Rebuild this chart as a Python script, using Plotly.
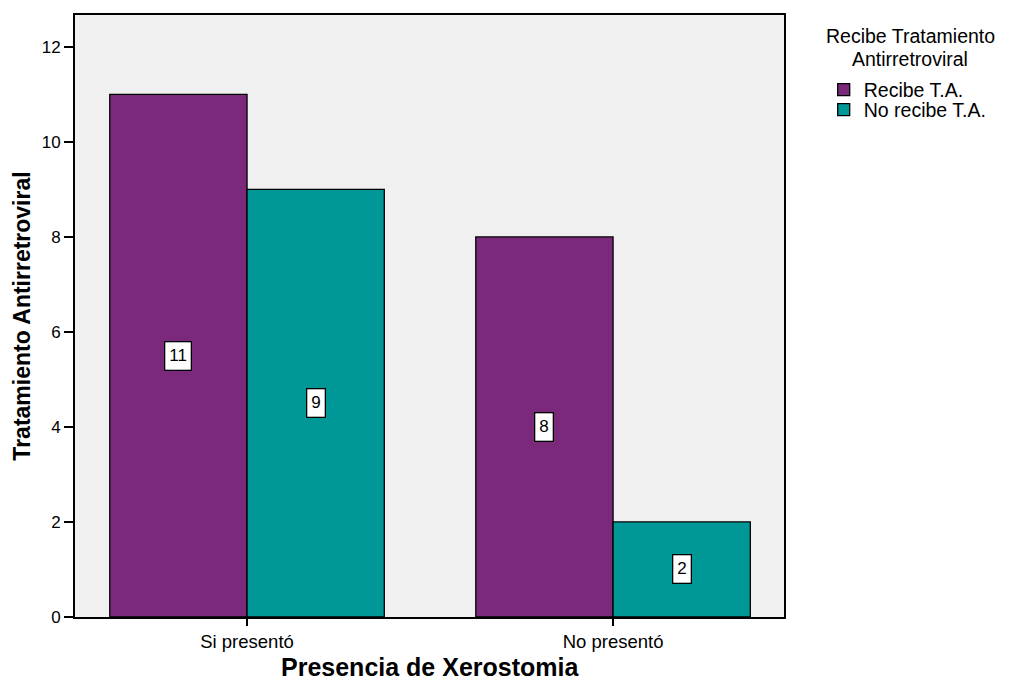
import plotly.graph_objects as go

categories = ["Si presentó", "No presentó"]
recibe = [11, 8]
no_recibe = [9, 2]
series_names = ["Recibe T.A.", "No recibe T.A."]
legend_title = ["Recibe Tratamiento", "Antirretroviral"]
x_title = "Presencia de Xerostomia"
y_title = "Tratamiento Antirretroviral"
y_ticks = [0, 2, 4, 6, 8, 10, 12]

purple = "#7B297A"
teal = "#009797"
FONT = "Liberation Sans, Arial, sans-serif"
PLOT_H = 602  # plot area height in px (683 - 15 - 66)

fig = go.Figure()
for name, vals, col, leg in [(series_names[0], recibe, purple, "legend"),
                             (series_names[1], no_recibe, teal, "legend2")]:
    fig.add_trace(go.Bar(
        x=categories, y=vals, name=name, legend=leg,
        marker=dict(color=col, line=dict(color="black", width=1.3)),
    ))

# value labels in white boxes at mid-height of each bar
offsets = [-0.1875, 0.1875]
for off, vals in zip(offsets, [recibe, no_recibe]):
    for i, v in enumerate(vals):
        fig.add_annotation(
            x=i + off, y=v / 2, xref="x", yref="y", text=str(v), showarrow=False,
            font=dict(family=FONT, size=17, color="black"),
            bgcolor="white", bordercolor="black", borderwidth=1.3, borderpad=4,
        )

# legend title, one line per annotation
for k, line in enumerate(legend_title):
    fig.add_annotation(
        x=1.178, y=1 - (21 + 23 * k) / PLOT_H, xref="paper", yref="paper",
        xanchor="center", yanchor="middle", text=line, showarrow=False,
        font=dict(family=FONT, size=19.5, color="black"),
    )

# x-axis title placed below the tick labels
fig.add_annotation(
    x=0.5, y=-(667 - 617) / PLOT_H, xref="paper", yref="paper",
    xanchor="center", yanchor="middle", text=f"<b>{x_title}</b>", showarrow=False,
    font=dict(family=FONT, size=25, color="black"),
)

legend_common = dict(x=1.056, xanchor="left", yanchor="middle",
                     font=dict(size=19.5), itemwidth=30, bgcolor="rgba(0,0,0,0)")

fig.update_layout(
    width=1010, height=683,
    margin=dict(l=75, r=226, t=15, b=66),
    paper_bgcolor="white", plot_bgcolor="#F0F0F0",
    barmode="group", bargap=0.25, bargroupgap=0,
    font=dict(family=FONT, size=14, color="black"),
    showlegend=True,
    legend=dict(y=1 - (90 - 15) / PLOT_H, **legend_common),
    legend2=dict(y=1 - (110 - 15) / PLOT_H, **legend_common),
    xaxis=dict(
        type="category", range=[-0.470, 1.467], automargin=False,
        showline=True, linecolor="black", linewidth=2, mirror=True,
        ticks="outside", ticklen=7, tickwidth=1.5, tickcolor="black",
        tickfont=dict(size=18.5),
    ),
    yaxis=dict(
        range=[0, 12.67], tickvals=y_ticks, automargin=False,
        showline=True, linecolor="black", linewidth=2, mirror=True,
        ticks="outside", ticklen=9, tickwidth=1.5, tickcolor="black",
        showgrid=False, zeroline=False,
        title=dict(text=f"<b>{y_title}</b>", font=dict(size=23), standoff=5),
        tickfont=dict(size=17),
    ),
)

fig.write_html("out.html")
